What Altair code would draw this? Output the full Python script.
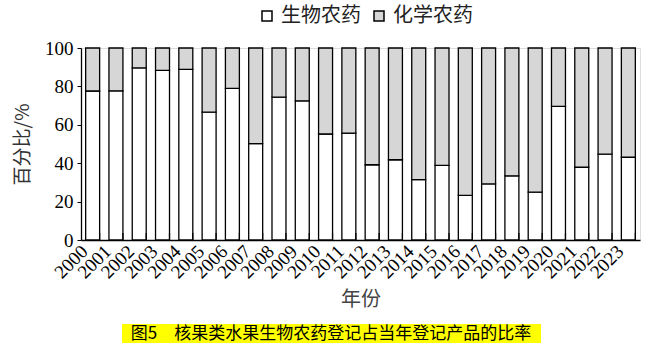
import altair as alt
import pandas as pd

years = [str(y) for y in range(2000, 2024)]
bio = [77.6, 77.7, 89.6, 88.3, 88.9, 66.6, 79.0, 50.2, 74.4, 72.5, 55.2,
       55.7, 39.2, 41.8, 31.4, 38.9, 23.2, 29.2, 33.4, 24.9, 69.6, 37.9, 44.7, 43.1]
chem = [22.4, 22.3, 10.4, 11.7, 11.1, 33.4, 21.0, 49.8, 25.6, 27.5, 44.8,
        44.3, 60.8, 58.2, 68.6, 61.1, 76.8, 70.8, 66.6, 75.1, 30.4, 62.1, 55.3, 56.9]
series = ["生物农药", "化学农药"]
caption = "图5　核果类水果生物农药登记占当年登记产品的比率"

rows = []
for i, y in enumerate(years):
    rows.append({"year": y, "type": series[0], "value": bio[i], "ord": 0})
    rows.append({"year": y, "type": series[1], "value": chem[i], "ord": 1})
df = pd.DataFrame(rows)
year_df = pd.DataFrame({"year": years})

SERIF = "Liberation Serif, Noto Sans CJK SC"
CJK = "Noto Sans CJK SC"

xscale = alt.Scale(paddingInner=0.4, paddingOuter=0.2)

bars = alt.Chart(df).mark_bar(stroke="black", strokeWidth=1.3).encode(
    x=alt.X("year:N", sort=years, scale=xscale,
            axis=alt.Axis(title="年份", labelAngle=-45, labelAlign="right",
                          labelBaseline="middle", labelFont=SERIF, labelFontSize=19,
                          labelOffset=-8, labelPadding=8, ticks=False,
                          domainColor="black", domainWidth=1.3,
                          titleFont=CJK, titleFontSize=20, titleFontWeight="normal",
                          titleColor="#444", titlePadding=8, labelColor="black")),
    y=alt.Y("value:Q", stack="zero",
            scale=alt.Scale(domain=[0, 100]),
            axis=alt.Axis(title="百分比/%", values=[0, 20, 40, 60, 80, 100],
                          labelFont=SERIF, labelFontSize=19, labelColor="black",
                          tickColor="black", tickSize=4, labelPadding=4,
                          domainColor="black", domainWidth=1.3, grid=False,
                          titleFont=CJK, titleFontSize=19, titleFontWeight="normal",
                          titleColor="#333", titlePadding=12)),
    fill=alt.Fill("type:N", sort=series,
                  scale=alt.Scale(domain=series, range=["white", "#d6d6d6"]),
                  legend=alt.Legend(title=None, orient="none", direction="horizontal",
                                    legendX=176, legendY=-42,
                                    labelFont=CJK, labelFontSize=20, labelColor="#222",
                                    symbolType="square", symbolSize=100,
                                    symbolStrokeColor="black", symbolStrokeWidth=1.5,
                                    columnPadding=8, labelOffset=4)),
    order=alt.Order("ord:Q"),
)

ticks = alt.Chart(year_df).mark_rule(color="black", strokeWidth=1.2).encode(
    x=alt.X("year:N", sort=years, scale=xscale, bandPosition=1),
    y=alt.value(192), y2=alt.value(185),
)

cap_df = pd.DataFrame({"t": [caption]})
cap_bg = alt.Chart(cap_df).mark_rect(color="#ffff00").encode(
    x=alt.value(41), x2=alt.value(460), y=alt.value(276), y2=alt.value(295)
)
cap_text = alt.Chart(cap_df).mark_text(font=CJK, fontSize=17, color="black",
                                       align="center", baseline="middle").encode(
    x=alt.value(250), y=alt.value(285.5), text="t:N"
)

chart = alt.layer(bars, ticks, cap_bg, cap_text).properties(
    width=559, height=192,
    autosize=alt.AutoSizeParams(type="none"),
    padding={"left": 81, "top": 48, "right": 26, "bottom": 112},
).configure_view(stroke=None).configure(background="white")

chart.save("out.html", embed_options={"renderer": "svg", "actions": False})
